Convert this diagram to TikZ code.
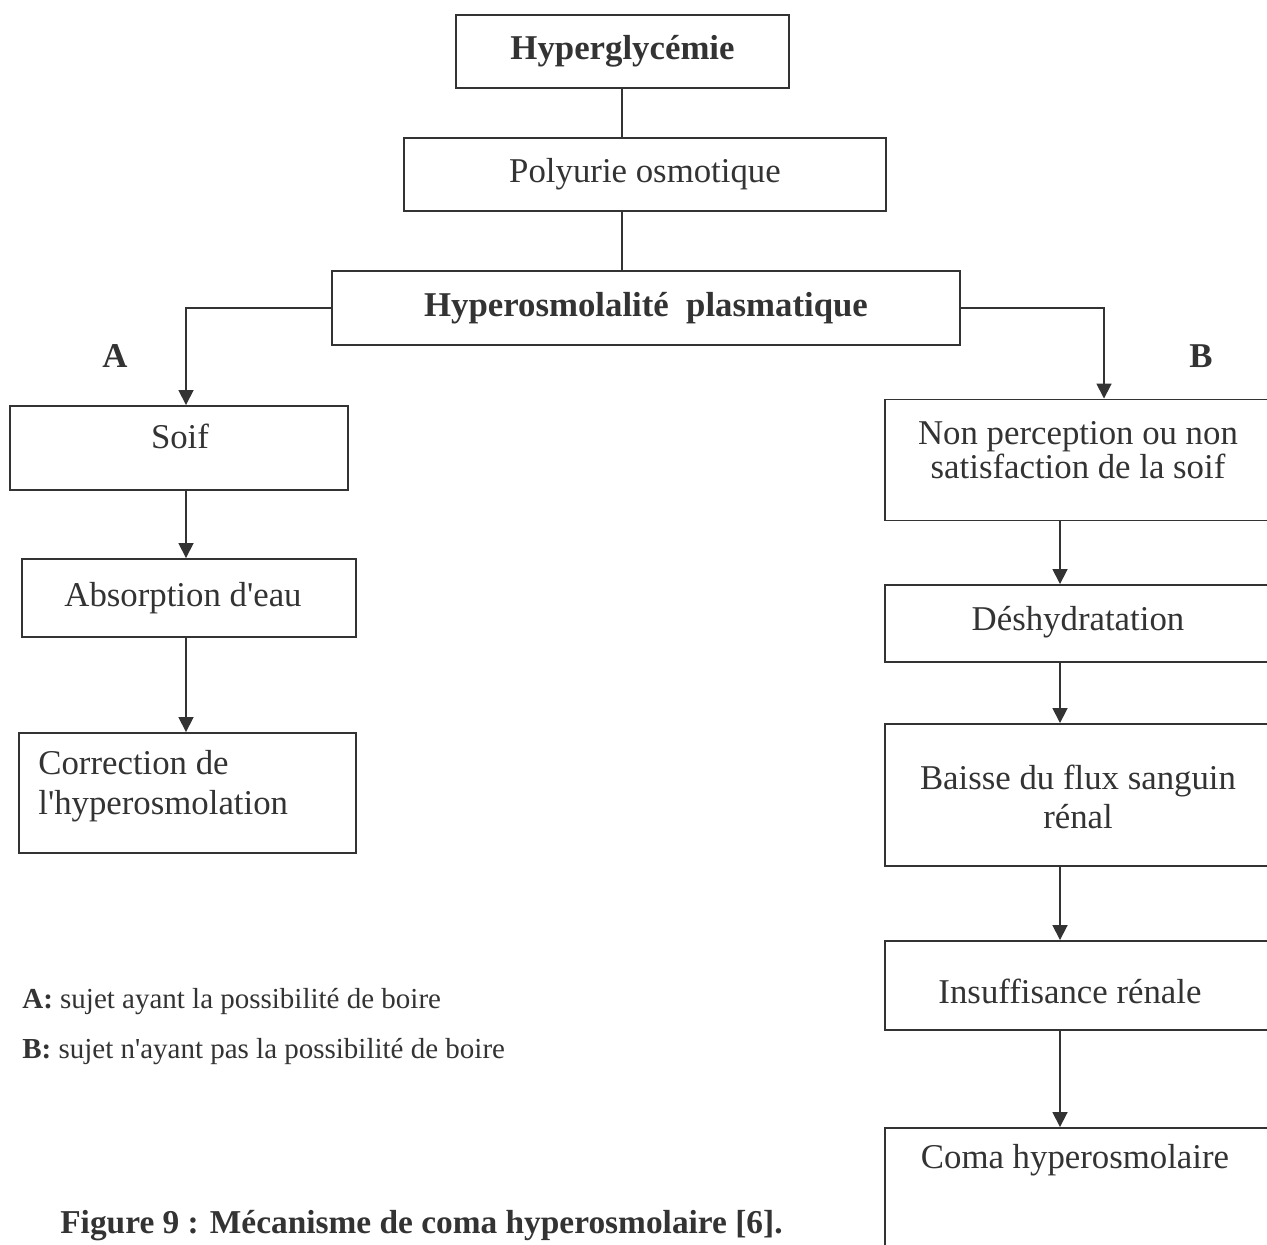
\documentclass[tikz,border=0pt]{standalone}
\usepackage{fontspec}
\setmainfont{Liberation Serif}[Ligatures=TeXOff]
\usetikzlibrary{arrows.meta}
\definecolor{ink}{HTML}{333333}
\begin{document}
\begin{tikzpicture}[x=0.02cm,y=-0.02cm,
  box/.style={draw=ink,line width=1.1pt,rectangle,inner sep=0pt,text=ink},
  link/.style={draw=ink,line width=1pt},
  flow/.style={link,-{Triangle[width=8.5pt,length=8.5pt]}},
  txt/.style={text=ink,font=\fontsize{19.8}{23}\selectfont,align=center,inner sep=0pt}]
\useasboundingbox (0,0) rectangle (1267,1244);

% central column
\node[box,minimum width=333*0.02cm,minimum height=73*0.02cm,font=\fontsize{19.8}{23}\selectfont\bfseries] (hg) at (622.5,51.5) {Hyperglycémie};
\node[box,minimum width=482*0.02cm,minimum height=73*0.02cm,font=\fontsize{19.8}{23}\selectfont] (po) at (645,174.5) {Polyurie osmotique};
\node[box,minimum width=628*0.02cm,minimum height=74*0.02cm,font=\fontsize{19.8}{23}\selectfont\bfseries] (hp) at (646,308) {Hyperosmolalité\ \ plasmatique};

% branch A
\node[box,minimum width=338*0.02cm,minimum height=84*0.02cm] (soif) at (179,448) {};
\node[txt] (soift) at (180,436) {Soif};
\node[box,minimum width=334*0.02cm,minimum height=78*0.02cm] (abs) at (189,598) {};
\node[txt] (abst) at (183,598) {Absorption d'eau};
\node[box,minimum width=337*0.02cm,minimum height=120*0.02cm] (corr) at (187.5,793) {};
\node[txt,align=left,anchor=west,font=\fontsize{19.8}{22.7}\selectfont] (corrt) at (38,786) {Correction de\\l'hyperosmolation};

% branch B
\node[box,minimum width=385*0.02cm,minimum height=121*0.02cm] (np) at (1077.5,460) {};
\node[txt,font=\fontsize{19.8}{19.4}\selectfont] (npt) at (1078,450) {Non perception ou non\\satisfaction de la soif};
\node[box,minimum width=385*0.02cm,minimum height=77*0.02cm] (des) at (1077.5,623.5) {};
\node[txt] (dest) at (1078,622) {Déshydratation};
\node[box,minimum width=385*0.02cm,minimum height=142*0.02cm] (bai) at (1077.5,795) {};
\node[txt,font=\fontsize{19.8}{22.2}\selectfont] (bait) at (1078,797) {Baisse du flux sanguin\\rénal};
\node[box,minimum width=385*0.02cm,minimum height=89*0.02cm] (ins) at (1077.5,985.5) {};
\node[txt] (inst) at (1070,991) {Insuffisance rénale};
\node[box,minimum width=385*0.02cm,minimum height=160*0.02cm] (coma) at (1077.5,1208) {};
\node[txt] (comat) at (1075,1160) {Coma hyperosmolaire};

% connector anchors
\coordinate (cx) at (622,0);
\coordinate (ax) at (186,0);
\coordinate (bx) at (1104,0);
\coordinate (rx) at (1060,0);

% connectors
\draw[link] (cx |- hg.south) -- (cx |- po.north);
\draw[link] (cx |- po.south) -- (cx |- hp.north);
\draw[flow] (hp.west) -| (ax |- soif.north);
\draw[flow] (hp.east) -| (bx |- np.north);
\draw[flow] (ax |- soif.south) -- (ax |- abs.north);
\draw[flow] (ax |- abs.south) -- (ax |- corr.north);
\draw[flow] (rx |- np.south) -- (rx |- des.north);
\draw[flow] (rx |- des.south) -- (rx |- bai.north);
\draw[flow] (rx |- bai.south) -- (rx |- ins.north);
\draw[flow] (rx |- ins.south) -- (rx |- coma.north);

% branch labels
\node[txt,font=\fontsize{19.8}{23}\selectfont\bfseries] (la) at (115,356) {A};
\node[txt,font=\fontsize{19.8}{23}\selectfont\bfseries] (lb) at (1201,356) {B};

% legend
\node[txt,anchor=west,font=\fontsize{16.5}{19}\selectfont] (lega) at (22,1002) {\textbf{A:} sujet ayant la possibilité de boire};
\node[txt,anchor=west,font=\fontsize{16.5}{19}\selectfont] (legb) at (22,1052) {\textbf{B:} sujet n'ayant pas la possibilité de boire};

% caption
\node[txt,anchor=base west,font=\fontsize{19}{22}\selectfont\bfseries] (cap) at (60,1233) {Figure 9 : Mécanisme de coma hyperosmolaire [6].};
\end{tikzpicture}
\end{document}
